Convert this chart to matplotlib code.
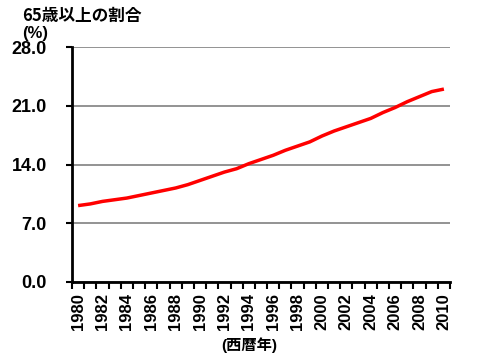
import numpy as np
import matplotlib.pyplot as plt

plt.rcParams['font.family'] = ['Liberation Sans', 'Noto Sans CJK JP', 'DejaVu Sans']
plt.rcParams['font.weight'] = 'bold'

years = list(range(1980, 2011))
ratio = [9.1, 9.3, 9.6, 9.8, 10.0, 10.3, 10.6, 10.9, 11.2, 11.6,
         12.1, 12.6, 13.1, 13.5, 14.1, 14.6, 15.1, 15.7, 16.2, 16.7,
         17.4, 18.0, 18.5, 19.0, 19.5, 20.2, 20.8, 21.5, 22.1, 22.7, 23.0]
yticks = [0.0, 7.0, 14.0, 21.0, 28.0]

fig = plt.figure(figsize=(4.8, 3.6), dpi=100)
ax = fig.add_axes([0.15, 0.217, 0.7875, 0.652])

x = np.arange(len(years))
ax.plot(x, ratio, color='#ff0000', linewidth=2.5, solid_capstyle='butt')

ax.set_xlim(-0.5, len(years) - 0.5)
ax.set_ylim(0, 28)
ax.set_yticks(yticks)
ax.set_yticklabels(['%.1f' % v for v in yticks], fontsize=13, fontweight='bold')
ax.yaxis.grid(True, color='#808080', linewidth=1.2)
ax.set_axisbelow(True)

ax.set_xticks(x[::2])
ax.set_xticklabels([str(y) for y in years[::2]], rotation=90, fontsize=12, fontweight='bold')
ax.set_xticks(np.arange(-0.5, len(years)), minor=True)
ax.tick_params(axis='x', which='major', length=0, pad=8)
ax.tick_params(axis='x', which='minor', length=5, width=1.5, direction='out')
ax.tick_params(axis='y', length=4, width=1.5, direction='out', pad=14)

ax.spines[['right', 'top']].set_visible(False)
ax.spines[['bottom', 'left']].set_linewidth(2)

fig.text(0.046, 0.955, '65歳以上の割合', fontsize=12, fontweight='bold',
         family=['Noto Sans CJK JP', 'DejaVu Sans'], va='center')
fig.text(0.046, 0.908, '(%)', fontsize=12, fontweight='bold', va='center')
fig.text(0.52, 0.04, '(西暦年)', fontsize=11, fontweight='bold', ha='center', va='center',
         family=['Liberation Sans', 'Noto Sans CJK JP'])

fig.savefig('out.png', dpi=100)
